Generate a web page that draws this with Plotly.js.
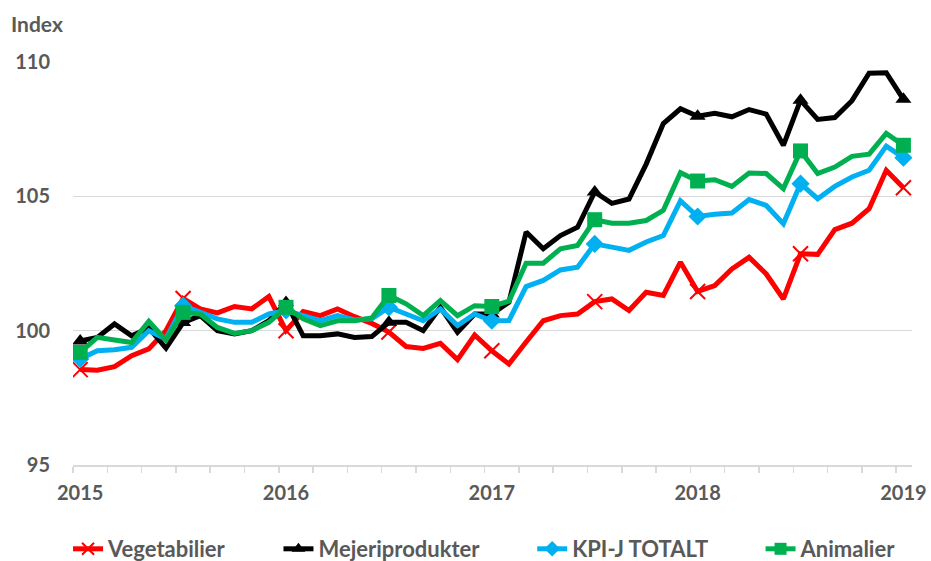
<!DOCTYPE html>
<html>
<head>
<meta charset="utf-8">
<script src="https://cdn.plot.ly/plotly-3.0.1.min.js"></script>
<style>html,body{margin:0;padding:0;background:#fff;}#chart{width:931px;height:561px;}</style>
</head>
<body>
<div id="chart"></div>
<script>
// Month index 0 = Jan 2015 ... 48 = Jan 2019
const months = Array.from({length: 49}, (_, i) => i);
const yearTickVals = [0, 12, 24, 36, 48];
const yearTickText = ['2015', '2016', '2017', '2018', '2019'];
const seriesNames = ['Vegetabilier', 'Mejeriprodukter', 'KPI-J TOTALT', 'Animalier'];

const vegetabilier = [
  98.55, 98.53, 98.66, 99.07, 99.32, 100.0, 101.2, 100.81, 100.66, 100.9, 100.81, 101.27,
  100.0, 100.71, 100.56, 100.81, 100.52, 100.27, 99.95, 99.41, 99.34, 99.53, 98.92, 99.84,
  99.25, 98.76, 99.58, 100.37, 100.56, 100.62, 101.08, 101.18, 100.75, 101.43, 101.31, 102.55,
  101.46, 101.68, 102.3, 102.73, 102.11, 101.18, 102.86, 102.84, 103.76, 104.0, 104.54, 105.97,
  105.32
];
const mejeriprodukter = [
  99.62, 99.75, 100.25, 99.81, 100.1, 99.35, 100.3, 100.56, 100.0, 99.88, 100.0, 100.37,
  101.05, 99.81, 99.81, 99.88, 99.75, 99.78, 100.31, 100.31, 100.0, 100.87, 99.94, 100.62,
  100.62, 101.06, 103.67, 103.05, 103.54, 103.85, 105.16, 104.74, 104.9, 106.2, 107.71, 108.26,
  107.98, 108.09, 107.96, 108.23, 108.06, 106.9, 108.58, 107.86, 107.93, 108.56, 109.58, 109.6,
  108.61
];
const kpiTotalt = [
  98.95, 99.25, 99.29, 99.38, 100.0, 99.69, 100.93, 100.68, 100.44, 100.31, 100.31, 100.62,
  100.75, 100.56, 100.37, 100.56, 100.4, 100.44, 100.87, 100.62, 100.37, 100.81, 100.19, 100.62,
  100.37, 100.38, 101.64, 101.87, 102.26, 102.36, 103.23, 103.11, 102.99, 103.3, 103.54, 104.83,
  104.25, 104.33, 104.38, 104.88, 104.66, 103.98, 105.47, 104.91, 105.37, 105.72, 105.97, 106.87,
  106.44
];
const animalier = [
  99.19, 99.75, 99.65, 99.56, 100.35, 99.65, 100.68, 100.62, 100.12, 99.9, 100.0, 100.31,
  100.87, 100.44, 100.19, 100.37, 100.37, 100.47, 101.31, 101.0, 100.56, 101.12, 100.56, 100.93,
  100.9, 101.1, 102.51, 102.51, 103.05, 103.17, 104.13, 104.0, 104.0, 104.1, 104.48, 105.88,
  105.57, 105.62, 105.37, 105.87, 105.85, 105.29, 106.69, 105.85, 106.09, 106.49, 106.57, 107.34,
  106.9
];

const colors = ['#ff0000', '#000000', '#00b0f0', '#00b050'];
const symbols = ['x-thin', 'triangle-up', 'diamond', 'square'];
const msizes = [15, 14, 14, 15];
const pad = '\u00a0'.repeat(9);
const legendPad = [pad, pad, pad, ''];
const allSeries = [vegetabilier, mejeriprodukter, kpiTotalt, animalier];

const traces = allSeries.map((vals, k) => ({
  type: 'scatter',
  mode: 'lines+markers',
  name: seriesNames[k] + legendPad[k],
  x: months,
  y: vals,
  line: {color: colors[k], width: 5},
  marker: {
    symbol: symbols[k],
    color: colors[k],
    opacity: 1,
    size: months.map(m => (m % 6 === 0 ? msizes[k] : 0)),
    line: {color: colors[k], width: k === 0 ? 2 : 0}
  },
  hoverinfo: 'x+y+name'
}));

const gray = '#595959';
const fam = 'Lato, "Liberation Sans", sans-serif';
const layout = {
  width: 931,
  height: 561,
  margin: {l: 73, r: 19, t: 62, b: 96},
  paper_bgcolor: '#ffffff',
  plot_bgcolor: '#ffffff',
  font: {family: fam, color: gray, size: 20, weight: 'bold'},
  title: {
    text: 'Index',
    font: {family: fam, size: 21, color: gray, weight: 'bold'},
    x: 11 / 931, xref: 'container', xanchor: 'left',
    y: 1 - 25 / 561, yref: 'container', yanchor: 'middle'
  },
  xaxis: {
    range: [-0.42, 48.5],
    tickmode: 'array',
    tickvals: yearTickVals,
    ticktext: yearTickText,
    ticks: '',
    ticklabelstandoff: 9,
    showgrid: false,
    zeroline: false,
    showline: true,
    linecolor: '#d9d9d9',
    linewidth: 1.5,
    tickfont: {family: fam, size: 20, color: gray, weight: 'bold'},
    minor: {tick0: -0.42, dtick: 2, ticks: 'outside', ticklen: 6, tickcolor: '#d9d9d9', tickwidth: 1.5, showgrid: false}
  },
  yaxis: {
    range: [95, 110],
    tickvals: [95, 100, 105, 110],
    ticks: '',
    ticklabelstandoff: 22,
    showgrid: true,
    gridcolor: '#d9d9d9',
    gridwidth: 1.5,
    zeroline: false,
    showline: false,
    tickfont: {family: fam, size: 20, color: gray, weight: 'bold'}
  },
  showlegend: true,
  legend: {
    orientation: 'h',
    xref: 'container', yref: 'container',
    x: 0.521, xanchor: 'center',
    y: 1 - 549 / 561, yanchor: 'middle',
    font: {family: fam, size: 22, color: gray, weight: 'bold'},
    itemsizing: 'constant',
    tracegroupgap: 0
  }
};

Plotly.newPlot('chart', traces, layout, {displayModeBar: false, staticPlot: true});
</script>
</body>
</html>
